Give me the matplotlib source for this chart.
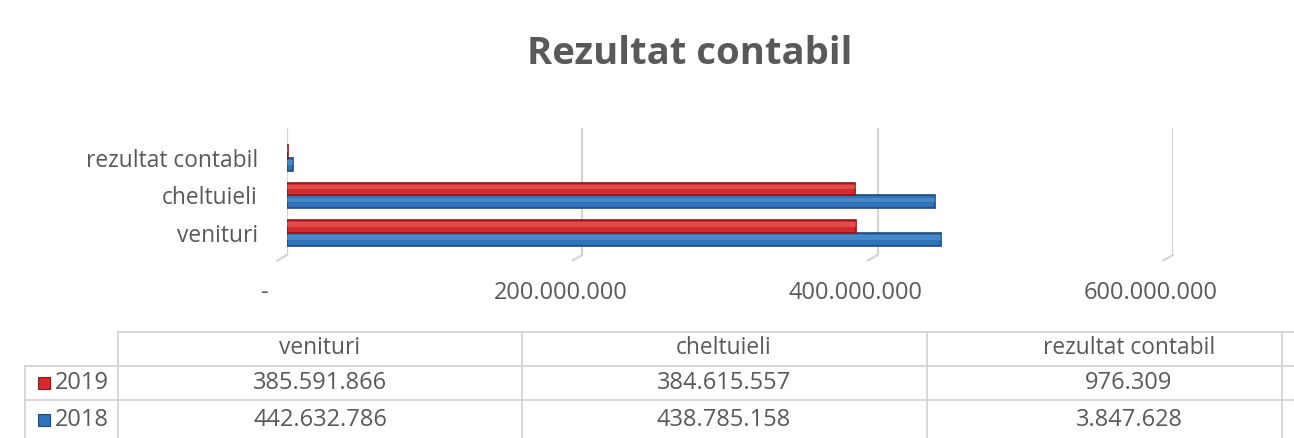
import matplotlib
matplotlib.use("Agg")
import matplotlib.pyplot as plt
import matplotlib.transforms as mtransforms
from matplotlib.lines import Line2D
from matplotlib.patches import Rectangle

# Data
categories = ["venituri", "cheltuieli", "rezultat contabil"]
years = ["2019", "2018"]
values_2019 = [385591866, 384615557, 976309]
values_2018 = [442632786, 438785158, 3847628]
tick_values = [0, 200000000, 400000000, 600000000]
tick_labels = ["-", "200.000.000", "400.000.000", "600.000.000"]

TEXT = "#595959"
GRID = "#d4d4d4"
RED, RED_EDGE, RED_HI = "#d42a2e", "#8a1a1c", "#ee6a64"
BLUE, BLUE_EDGE, BLUE_HI = "#2f73b8", "#1f4a7d", "#5b9ad8"
FONT = "Open Sans"
WORD_SIZE = 16.4
NUM_SIZE = 17

W, H = 1294, 438
fig = plt.figure(figsize=(W / 100, H / 100), dpi=100)
fig.patch.set_facecolor("white")


def fx(px):
    return px / W


def fy(py):
    return 1 - py / H


# Title
fig.text(fx(690), fy(54), "Rezultat contabil", ha="center", va="center",
         fontsize=27.5, fontweight="bold", color=TEXT, family=FONT)

# Plot area
left, right, top, bottom = 287, 1173, 128, 255
ax = fig.add_axes([fx(left), fy(bottom), fx(right - left), fy(top) - fy(bottom)])
ax.set_xlim(0, 600000000)
ax.set_ylim(-0.59, 2.80)
for s in ax.spines.values():
    s.set_visible(False)

# vertical gridlines, each with a short slanted foot
base = mtransforms.blended_transform_factory(ax.transData, ax.transAxes)
for v in tick_values:
    ax.axvline(v, color=GRID, lw=1.6, zorder=0)
    ax.annotate("", xy=(v, 0), xycoords=base, xytext=(-7, -4),
                textcoords="offset points",
                arrowprops=dict(arrowstyle="-", color=GRID, lw=1.6,
                                shrinkA=0, shrinkB=0))

ypos = list(range(len(categories)))
off, hgt = 0.17, 0.34
red_y = [y + off for y in ypos]
blue_y = [y - off for y in ypos]

ax.barh(blue_y, values_2018, height=hgt, color=BLUE, edgecolor=BLUE_EDGE,
        linewidth=1.2, zorder=3)
ax.barh([y + 0.05 for y in blue_y], values_2018, height=hgt * 0.35,
        color=BLUE_HI, linewidth=0, zorder=4, alpha=0.55)
ax.barh(red_y, values_2019, height=hgt, color=RED, edgecolor=RED_EDGE,
        linewidth=1.2, zorder=3)
ax.barh([y + 0.05 for y in red_y], values_2019, height=hgt * 0.35,
        color=RED_HI, linewidth=0, zorder=4, alpha=0.55)

ax.set_yticks(ypos)
ax.set_yticklabels(categories, fontsize=WORD_SIZE, color=TEXT, family=FONT)
ax.set_xticks(tick_values)
ax.set_xticklabels(tick_labels, fontsize=NUM_SIZE, color=TEXT, family=FONT)
ax.tick_params(length=0)
ax.tick_params(axis="y", pad=21)
ax.tick_params(axis="x", pad=19)
shift = mtransforms.ScaledTranslation(-22 / 100, 0, fig.dpi_scale_trans)
for lab in ax.get_xticklabels():
    lab.set_transform(lab.get_transform() + shift)

# Data table
line_kw = dict(color=GRID, lw=1.3)
fig.add_artist(Line2D([fx(118), fx(1294)], [fy(332), fy(332)], **line_kw))
fig.add_artist(Line2D([fx(25), fx(1294)], [fy(366), fy(366)], **line_kw))
fig.add_artist(Line2D([fx(25), fx(1294)], [fy(400), fy(400)], **line_kw))
fig.add_artist(Line2D([fx(25), fx(25)], [fy(366), fy(438)], **line_kw))
for x in [118, 522, 927, 1282]:
    fig.add_artist(Line2D([fx(x), fx(x)], [fy(332), fy(438)], **line_kw))

col_centers = [320, 724, 1129]
for c, name in zip(col_centers, categories):
    fig.text(fx(c), fy(348), name, ha="center", va="center", fontsize=WORD_SIZE,
             color=TEXT, family=FONT)

row_centers = [383, 420]
series = [values_2019, values_2018]
marks = [(RED, RED_EDGE), (BLUE, BLUE_EDGE)]


def fmt(v):
    return f"{v:,}".replace(",", ".")


for yc, yr, vals, (col, edge) in zip(row_centers, years, series, marks):
    fig.add_artist(Rectangle((fx(38), fy(yc + 6)), fx(12), fy(yc - 6) - fy(yc + 6),
                             transform=fig.transFigure,
                             facecolor=col, edgecolor=edge, lw=0.8))
    fig.text(fx(55), fy(yc), yr, ha="left", va="center", fontsize=NUM_SIZE,
             color=TEXT, family=FONT)
    for c, v in zip(col_centers, vals):
        fig.text(fx(c), fy(yc), fmt(v), ha="center", va="center", fontsize=NUM_SIZE,
                 color=TEXT, family=FONT)

fig.savefig("out.png", dpi=100, facecolor="white")
